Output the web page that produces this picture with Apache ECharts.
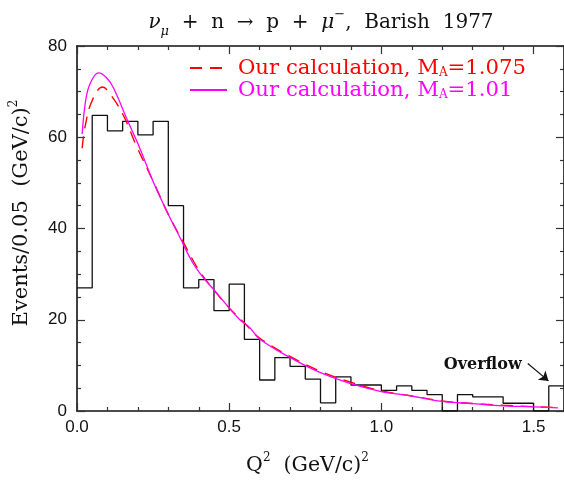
<!DOCTYPE html>
<html><head><meta charset="utf-8">
<script src="https://cdn.jsdelivr.net/npm/echarts@6/dist/echarts.min.js"></script>
<style>html,body{margin:0;padding:0;background:#fff}#c{width:564px;height:485px}</style>
</head><body><div id="c"></div>
<script>
// Histogram: bin left edges (GeV/c)^2 and events per 0.05 bin (last bin = overflow)
var binEdges = [0.00,0.05,0.10,0.15,0.20,0.25,0.30,0.35,0.40,0.45,0.50,0.55,0.60,0.65,0.70,0.75,0.80,0.85,0.90,0.95,1.00,1.05,1.10,1.15,1.20,1.25,1.30,1.35,1.40,1.45,1.50,1.55];
var counts   = [27.0,64.8,61.4,63.5,60.5,63.5,45.0,27.0,28.8,22.0,27.8,15.7,6.8,11.7,9.8,7.0,1.8,7.5,5.7,5.7,4.5,5.5,4.5,3.6,0.0,3.6,3.1,3.1,1.7,1.7,0.0,5.5];
var histEnd = 1.60;
// Our calculation, M_A = 1.075 (red dashed)
var calcRedX = [0.017,0.027,0.049,0.084,0.114,0.153,0.196,0.25,0.30,0.35,0.40,0.45,0.50,0.55,0.60,0.70,0.80,0.90,1.00,1.10,1.20,1.30,1.40,1.50,1.58];
var calcRedY = [57.6,62.5,67.9,71.0,69.0,64.7,58.0,50.4,43.1,36.9,30.9,26.5,22.6,19.3,16.0,11.95,8.7,6.3,4.4,3.3,2.2,1.65,1.25,0.95,0.75];
// Our calculation, M_A = 1.01 (magenta solid)
var calcMagX = [0.017,0.029,0.044,0.071,0.098,0.12,0.164,0.207,0.25,0.295,0.34,0.38,0.414,0.447,0.501,0.535,0.567,0.60,0.698,0.796,0.894,1.003,1.058,1.123,1.20,1.30,1.385,1.50,1.58];
var calcMagY = [60.7,68.3,71.9,74.1,73.0,70.8,64.0,57.5,50.3,43.8,37.8,32.5,29.3,26.8,22.5,20.0,18.3,15.8,11.8,8.5,6.1,4.2,3.7,3.0,2.1,1.6,1.2,0.9,0.7];
var xTickLabels = {'0':'0.0','0.5':'0.5','1':'1.0','1.5':'1.5'};
var yTickLabels = {'0':'0','20':'20','40':'40','60':'60','80':'80'};
var legendNames = ['Our calculation, M{s|A}=1.075','Our calculation, M{s|A}=1.01'];
var overflowFrom = [1.481, 10.4], overflowTo = [1.549, 6.6], overflowText = 'Overflow';

var histData = binEdges.map(function(x,i){return [x, counts[i]];});
histData.push([histEnd, counts[counts.length-1]]);
var redData = calcRedX.map(function(x,i){return [x, calcRedY[i]];});
var magData = calcMagX.map(function(x,i){return [x, calcMagY[i]];});

var serif = '"DejaVu Serif", serif';
var sans = '"Liberation Sans", Arial, sans-serif';
var chart = echarts.init(document.getElementById('c'));
function axisBase(extra){
  var a = {
    type:'value', axisLine:{show:true, onZero:false, lineStyle:{color:'#111', width:1.6}},
    axisTick:{show:true, inside:true, length:8, lineStyle:{color:'#333', width:1.2}},
    minorTick:{show:true, length:4, lineStyle:{color:'#333', width:1.2}},
    splitLine:{show:false}, minorSplitLine:{show:false}
  };
  for (var k in extra) a[k] = extra[k];
  return a;
}
var option = {
  animation:false,
  backgroundColor:'#fff',
  title:{
    text:'{g|ν}{sub|μ}  +  n  →  p  +  {g|μ}{sup|−},  Barish  1977',
    left:316, top:3, textAlign:'center',
    textStyle:{fontFamily:serif, fontSize:20, fontWeight:'normal', color:'#111', lineHeight:30,
      rich:{
        g:{fontFamily:serif, fontSize:20, fontStyle:'italic', color:'#111', lineHeight:30},
        sub:{fontFamily:serif, fontSize:13, fontStyle:'italic', color:'#111', verticalAlign:'bottom', lineHeight:30},
        sup:{fontFamily:serif, fontSize:13, color:'#111', verticalAlign:'top', lineHeight:30}
      }}
  },
  grid:{left:77, top:46, width:489, height:369.5},
  legend:{
    orient:'vertical', left:184, top:52, itemWidth:37, itemHeight:14, itemGap:0,
    itemStyle:{opacity:0},
    textStyle:{fontFamily:serif, fontSize:21.2, lineHeight:22, padding:[0,0,0,6],
      rich:{s:{fontFamily:serif, fontSize:12, verticalAlign:'bottom', lineHeight:22}}},
    data:[
      {name:legendNames[0], textStyle:{color:'#ff0000', rich:{s:{color:'#ff0000'}}}},
      {name:legendNames[1], textStyle:{color:'#ff00ff', rich:{s:{color:'#ff00ff'}}}}
    ]
  },
  xAxis:[
    axisBase({min:0, max:1.6, interval:0.5, position:'bottom',
      minorTick:{show:true, length:4, splitNumber:5, lineStyle:{color:'#333', width:1.2}},
      axisLabel:{showMaxLabel:false, margin:8, fontFamily:sans, fontSize:17, color:'#111',
        formatter:function(v){var k=String(+v.toFixed(2)); return xTickLabels[k]!==undefined?xTickLabels[k]:'';}},
      name:'Q{sup|2}  (GeV/c){sup|2}', nameLocation:'middle', nameGap:41,
      nameTextStyle:{fontFamily:serif, fontSize:20.5, color:'#111', lineHeight:28, padding:[0,26,0,0],
        rich:{sup:{fontFamily:serif, fontSize:12, color:'#111', verticalAlign:'top', lineHeight:28}}}
    }),
    axisBase({min:0, max:1.6, interval:0.5, position:'top',
      minorTick:{show:true, length:4, splitNumber:5, lineStyle:{color:'#333', width:1.2}},
      axisLabel:{show:false}})
  ],
  yAxis:[
    axisBase({min:0, max:80, interval:20, position:'left',
      minorTick:{show:true, length:4, splitNumber:4, lineStyle:{color:'#333', width:1.2}},
      axisLabel:{margin:10, fontFamily:sans, fontSize:17, color:'#111',
        formatter:function(v){return yTickLabels[String(v)]||'';}}
    }),
    axisBase({min:0, max:80, interval:20, position:'right',
      minorTick:{show:true, length:4, splitNumber:4, lineStyle:{color:'#333', width:1.2}},
      axisLabel:{show:false}})
  ],
  graphic:[{
    type:'text', x:22, y:213, rotation:Math.PI/2,
    style:{text:'Events/0.05  (GeV/c){sup|2}', fontFamily:serif, fontSize:21, fill:'#111',
      align:'center', verticalAlign:'middle', lineHeight:28,
      rich:{sup:{fontFamily:serif, fontSize:12, fill:'#111', verticalAlign:'top', lineHeight:28}}}
  }],
  series:[
    {type:'line', name:'hist', step:'end', data:histData, symbol:'none', silent:true,
      lineStyle:{color:'#111', width:1.3}, z:2,
      markLine:{silent:true, symbol:['none','arrow'], symbolSize:9,
        lineStyle:{color:'#111', width:1.2, type:'solid'}, label:{show:false},
        data:[[{coord:overflowFrom},{coord:overflowTo}]]},
      markPoint:{silent:true, symbol:'circle', symbolSize:0,
        label:{show:true, position:'left', distance:0, formatter:overflowText, fontFamily:serif, fontSize:16, fontWeight:'bold', color:'#111'},
        data:[{coord:[overflowFrom[0]-0.02, overflowFrom[1]-0.2]}]}
    },
    {type:'line', name:legendNames[0], data:redData, smooth:0.4, symbol:'none',
      lineStyle:{color:'#ff0000', width:1.4, type:[12,8]}, itemStyle:{color:'#ff0000'}, z:3},
    {type:'line', name:legendNames[1], data:magData, smooth:0.4, symbol:'none',
      lineStyle:{color:'#ff00ff', width:1.3}, itemStyle:{color:'#ff00ff'}, z:4}
  ]
};
chart.setOption(option);
</script></body></html>
